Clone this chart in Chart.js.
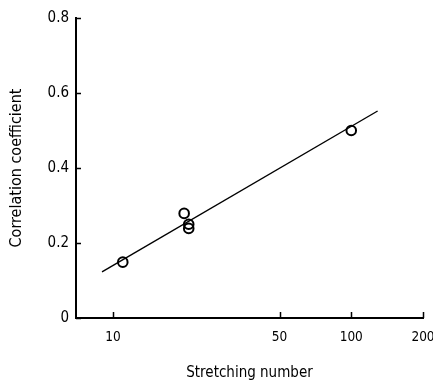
<!DOCTYPE html>
<html>
<head>
<meta charset="utf-8">
<script src="https://cdn.jsdelivr.net/npm/chart.js@4"></script>
<style>
html,body{margin:0;padding:0;background:#fff;}
#wrap{width:433px;height:382px;}
</style>
</head>
<body>
<div id="wrap"><canvas id="c" width="433" height="382"></canvas></div>
<script>
// Data
const stretchX = [11.0, 19.9, 20.8, 20.8, 100];
const corrY = [0.149, 0.279, 0.250, 0.239, 0.50];
const fitX = [9.0, 129];
const fitY = [0.123, 0.552];
const xTicks = [10, 50, 100, 200];
const yTicks = [0, 0.2, 0.4, 0.6, 0.8];

const FONT = "'DejaVu Sans Condensed','Liberation Sans Narrow','Liberation Sans',sans-serif";

const innerTicks = {
  id: 'innerTicks',
  afterDraw(chart) {
    const ctx = chart.ctx;
    const xs = chart.scales.x, ys = chart.scales.y;
    const a = chart.chartArea;
    ctx.save();
    ctx.strokeStyle = '#000';
    ctx.lineWidth = 1.5;
    ctx.beginPath();
    xTicks.forEach(v => {
      const px = Math.round(xs.getPixelForValue(v)) + 0.5;
      ctx.moveTo(px, a.bottom);
      ctx.lineTo(px, a.bottom - 6);
    });
    yTicks.forEach(v => {
      const py = Math.round(ys.getPixelForValue(v)) + 0.5;
      ctx.moveTo(a.left, py);
      ctx.lineTo(a.left + 5, py);
    });
    ctx.stroke();
    ctx.restore();
  }
};

new Chart(document.getElementById('c'), {
  type: 'scatter',
  data: {
    datasets: [
      {
        data: fitX.map((x, i) => ({x, y: fitY[i]})),
        showLine: true,
        borderColor: '#000',
        borderWidth: 1.4,
        pointRadius: 0,
        fill: false
      },
      {
        data: stretchX.map((x, i) => ({x, y: corrY[i]})),
        showLine: false,
        pointStyle: 'circle',
        pointRadius: 4.8,
        pointBorderWidth: 2,
        pointBorderColor: '#000',
        pointBackgroundColor: 'rgba(255,255,255,0)'
      }
    ]
  },
  plugins: [innerTicks],
  options: {
    responsive: false,
    animation: false,
    layout: { padding: { left: 0, right: 10, top: 18, bottom: 0 } },
    plugins: { legend: { display: false }, tooltip: { enabled: false } },
    scales: {
      x: {
        type: 'logarithmic',
        min: 7,
        max: 200,
        afterBuildTicks(s) { s.ticks = xTicks.map(v => ({value: v})); },
        afterFit(s) { s.height = 64; s.paddingRight = 0; s.paddingLeft = 0; },
        grid: { display: true, drawOnChartArea: false, drawTicks: false },
        border: { display: true, color: '#000', width: 2 },
        ticks: {
          color: '#000',
          font: { family: FONT, size: 13.5 },
          padding: 11,
          maxRotation: 0,
          autoSkip: false,
          callback: v => String(v)
        },
        title: {
          display: true,
          text: 'Stretching number',
          color: '#000',
          font: { family: FONT, size: 15 },
          padding: { top: 13, bottom: 0 }
        }
      },
      y: {
        min: 0,
        max: 0.8,
        afterBuildTicks(s) { s.ticks = yTicks.map(v => ({value: v})); },
        afterFit(s) { s.width = 76; s.paddingTop = 0; s.paddingBottom = 0; },
        grid: { display: true, drawOnChartArea: false, drawTicks: false },
        border: { display: true, color: '#000', width: 2 },
        ticks: {
          color: '#000',
          font: { family: FONT, size: 15 },
          padding: 7,
          callback: v => v === 0 ? '0' : v.toFixed(1)
        },
        title: {
          display: true,
          text: 'Correlation coefficient',
          color: '#000',
          font: { family: FONT, size: 16 },
          padding: { top: 7, bottom: 8 }
        }
      }
    }
  }
});
</script>
</body>
</html>
